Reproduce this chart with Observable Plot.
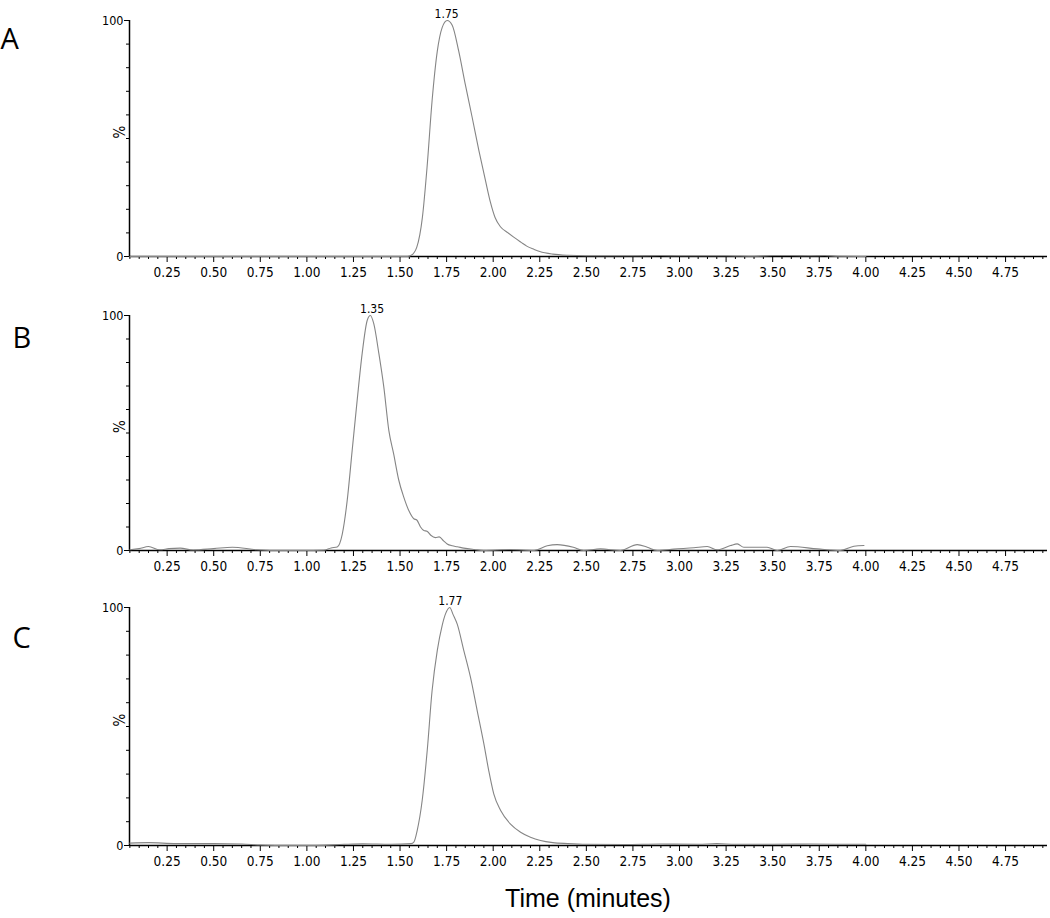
<!DOCTYPE html>
<html><head><meta charset="utf-8">
<script src="https://cdn.jsdelivr.net/npm/d3@7"></script>
<script src="https://cdn.jsdelivr.net/npm/@observablehq/plot@0.6"></script>
<style>
body{margin:0;background:#fff;overflow:hidden;}
#chart svg{display:block;}
#xlabel{font-family:"Liberation Sans",Arial,sans-serif;font-size:25px;line-height:30px;padding-top:13px;margin-left:129px;width:918px;text-align:center;color:#000;}
</style></head><body>
<div id="chart"></div>
<div id="xlabel">Time (minutes)</div>
<script>
// ---- data ----
const panelLetters = ["A", "B", "C"];
const peakTimes = [1.75, 1.35, 1.77];
const peakLabels = ["1.75", "1.35", "1.77"];

const timeA = [0.05, 0.5, 1.0, 1.5, 1.54, 1.56, 1.59, 1.62, 1.645, 1.672, 1.70, 1.726, 1.753, 1.78, 1.815, 1.85, 1.887, 1.923, 1.959, 1.985, 2.01, 2.04, 2.08, 2.11, 2.15, 2.18, 2.22, 2.25, 2.32, 2.4, 2.5, 2.6, 2.75, 2.9, 3.0, 3.1, 3.25, 3.4, 3.5, 3.6, 3.7, 3.78, 3.85, 4.0];
const valueA = [0, 0, 0, 0, 0, 0.5, 4, 16.6, 37.8, 66, 87, 97, 100, 98, 87, 73, 59, 45, 32, 23, 16.5, 12.5, 10, 8.2, 6, 4.4, 3, 2.1, 1, 0.5, 0.3, 0.3, 0.3, 0.4, 0.3, 0.3, 0.3, 0.1, 0.4, 0.4, 0.3, 0.4, 0.1, 0];

const timeB = [0.05, 0.1, 0.15, 0.21, 0.26, 0.32, 0.39, 0.5, 0.6, 0.73, 0.82, 0.97, 1.09, 1.13, 1.163, 1.19, 1.216, 1.243, 1.27, 1.297, 1.324, 1.341, 1.359, 1.386, 1.413, 1.44, 1.466, 1.493, 1.52, 1.547, 1.574, 1.59, 1.61, 1.628, 1.645, 1.665, 1.69, 1.71, 1.735, 1.753, 1.78, 1.807, 1.842, 1.9, 1.95, 2.09, 2.22, 2.29, 2.343, 2.43, 2.486, 2.576, 2.683, 2.773, 2.827, 2.88, 2.97, 3.077, 3.149, 3.202, 3.274, 3.31, 3.345, 3.47, 3.524, 3.596, 3.74, 3.864, 3.936, 3.99];
const valueB = [0.3, 0.8, 1.7, 0.3, 0.8, 1, 0.2, 0.8, 1.4, 0.3, 0, 0, 0.1, 1.1, 1.5, 7, 21, 42.5, 64, 84, 98, 100, 96.5, 84, 69.5, 51, 41, 30, 22.7, 17, 13.5, 13, 10, 8.5, 8.2, 6.5, 5.5, 5.8, 4, 2.8, 2, 1.6, 1, 0.4, 0, 0.4, 0, 2, 2.5, 1.4, 0, 0.7, 0, 2.5, 1.4, 0, 0.6, 1.2, 1.7, 0.3, 2.1, 2.8, 1.4, 1.4, 0, 1.7, 0.7, 0, 1.8, 2.1];

const timeC = [0.05, 0.15, 0.3, 0.5, 0.65, 0.75, 0.85, 1.05, 1.2, 1.3, 1.45, 1.56, 1.574, 1.592, 1.619, 1.646, 1.672, 1.70, 1.726, 1.744, 1.767, 1.785, 1.807, 1.842, 1.878, 1.914, 1.95, 1.976, 2.003, 2.04, 2.093, 2.147, 2.2, 2.254, 2.32, 2.4, 2.5, 2.7, 2.9, 3.1, 3.2, 3.3, 3.5, 3.7, 3.9, 4.0];
const valueC = [1, 1.2, 0.8, 0.8, 0.6, 0.2, 0, 0, 0.5, 0.7, 0.5, 0.8, 1.4, 6.3, 19, 40, 65, 82, 92.4, 97.3, 100, 97, 93, 82, 70.7, 56.7, 42.7, 31.5, 21.7, 14.7, 9, 5.6, 3.5, 2.1, 1.2, 0.8, 0.5, 0.4, 0.6, 0.5, 0.8, 0.5, 0.5, 0.6, 0.5, 0.5];

const majorTicks = [0.25, 0.5, 0.75, 1.0, 1.25, 1.5, 1.75, 2.0, 2.25, 2.5, 2.75, 3.0, 3.25, 3.5, 3.75, 4.0, 4.25, 4.5, 4.75];
const majorTickLabels = ["0.25", "0.50", "0.75", "1.00", "1.25", "1.50", "1.75", "2.00", "2.25", "2.50", "2.75", "3.00", "3.25", "3.50", "3.75", "4.00", "4.25", "4.50", "4.75"];
const minorTicks = [0.05, 0.1, 0.15, 0.2, 0.3, 0.35, 0.4, 0.45, 0.55, 0.6, 0.65, 0.7, 0.8, 0.85, 0.9, 0.95, 1.05, 1.1, 1.15, 1.2, 1.3, 1.35, 1.4, 1.45, 1.55, 1.6, 1.65, 1.7, 1.8, 1.85, 1.9, 1.95, 2.05, 2.1, 2.15, 2.2, 2.3, 2.35, 2.4, 2.45, 2.55, 2.6, 2.65, 2.7, 2.8, 2.85, 2.9, 2.95, 3.05, 3.1, 3.15, 3.2, 3.3, 3.35, 3.4, 3.45, 3.55, 3.6, 3.65, 3.7, 3.8, 3.85, 3.9, 3.95, 4.05, 4.1, 4.15, 4.2, 4.3, 4.35, 4.4, 4.45, 4.55, 4.6, 4.65, 4.7, 4.8, 4.85, 4.9, 4.95];
const yMajorTicks = [0, 100];
const yMajorTickLabels = ["0", "100"];
const yMinorTicks = [10, 20, 30, 40, 50, 60, 70, 80, 90];
const yAxisLabel = "%";

// ---- layout ----
const X_DOMAIN = [0.048, 4.975];
const NARROW = "'Liberation Sans Narrow', 'Arial Narrow', 'DejaVu Sans Condensed', sans-serif";
const panels = [
  {t: timeA, v: valueA, height: 295, mt: 20, mb: 39, ldx: -129, ldy: 28},
  {t: timeB, v: valueB, height: 295, mt: 20, mb: 40, ldx: -117, ldy: 32},
  {t: timeC, v: valueC, height: 280, mt: 17, mb: 25, ldx: -117, ldy: 40}
];

const root = document.getElementById("chart");
panels.forEach((p, k) => {
  const series = p.t.map((d, i) => ({t: d, v: p.v[i]}));
  const peak = [{t: peakTimes[k], v: 100, label: peakLabels[k]}];
  const svg = Plot.plot({
    width: 1050,
    height: p.height,
    marginLeft: 129,
    marginRight: 3,
    marginTop: p.mt,
    marginBottom: p.mb,
    x: {domain: X_DOMAIN, label: null},
    y: {domain: [0, 100], label: null},
    style: {fontFamily: NARROW, fontSize: "13px", color: "#000", background: "#fff", overflow: "visible"},
    marks: [
      Plot.axisX(minorTicks, {tickSize: 3, tickFormat: () => "", label: null}),
      Plot.axisX(majorTicks, {tickSize: 6, tickPadding: 5, label: null, fontSize: 13.5,
        tickFormat: d => majorTickLabels[majorTicks.indexOf(d)]}),
      Plot.axisY(yMinorTicks, {tickSize: 3, tickFormat: () => "", label: null}),
      Plot.axisY(yMajorTicks, {tickSize: 5, tickPadding: 1, label: null, fontSize: 12.5,
        tickFormat: d => yMajorTickLabels[yMajorTicks.indexOf(d)]}),
      Plot.ruleY([0], {strokeWidth: 1.5}),
      Plot.ruleX([X_DOMAIN[0]], {strokeWidth: 1.5}),
      Plot.line(series, {x: "t", y: "v", stroke: "#858585", strokeWidth: 1.1, curve: "monotone-x"}),
      Plot.text(peak, {x: "t", y: "v", text: "label", lineAnchor: "bottom", dy: -3, fontSize: 12}),
      Plot.text([yAxisLabel], {frameAnchor: "left", dx: -9, rotate: -90, fontSize: 15}),
      Plot.text([panelLetters[k]], {frameAnchor: "top-left", textAnchor: "start", lineAnchor: "bottom",
        dx: p.ldx, dy: p.ldy, fontFamily: "'Open Sans', sans-serif", fontSize: 29})
    ]
  });
  root.appendChild(svg);
});
</script>
</body></html>
